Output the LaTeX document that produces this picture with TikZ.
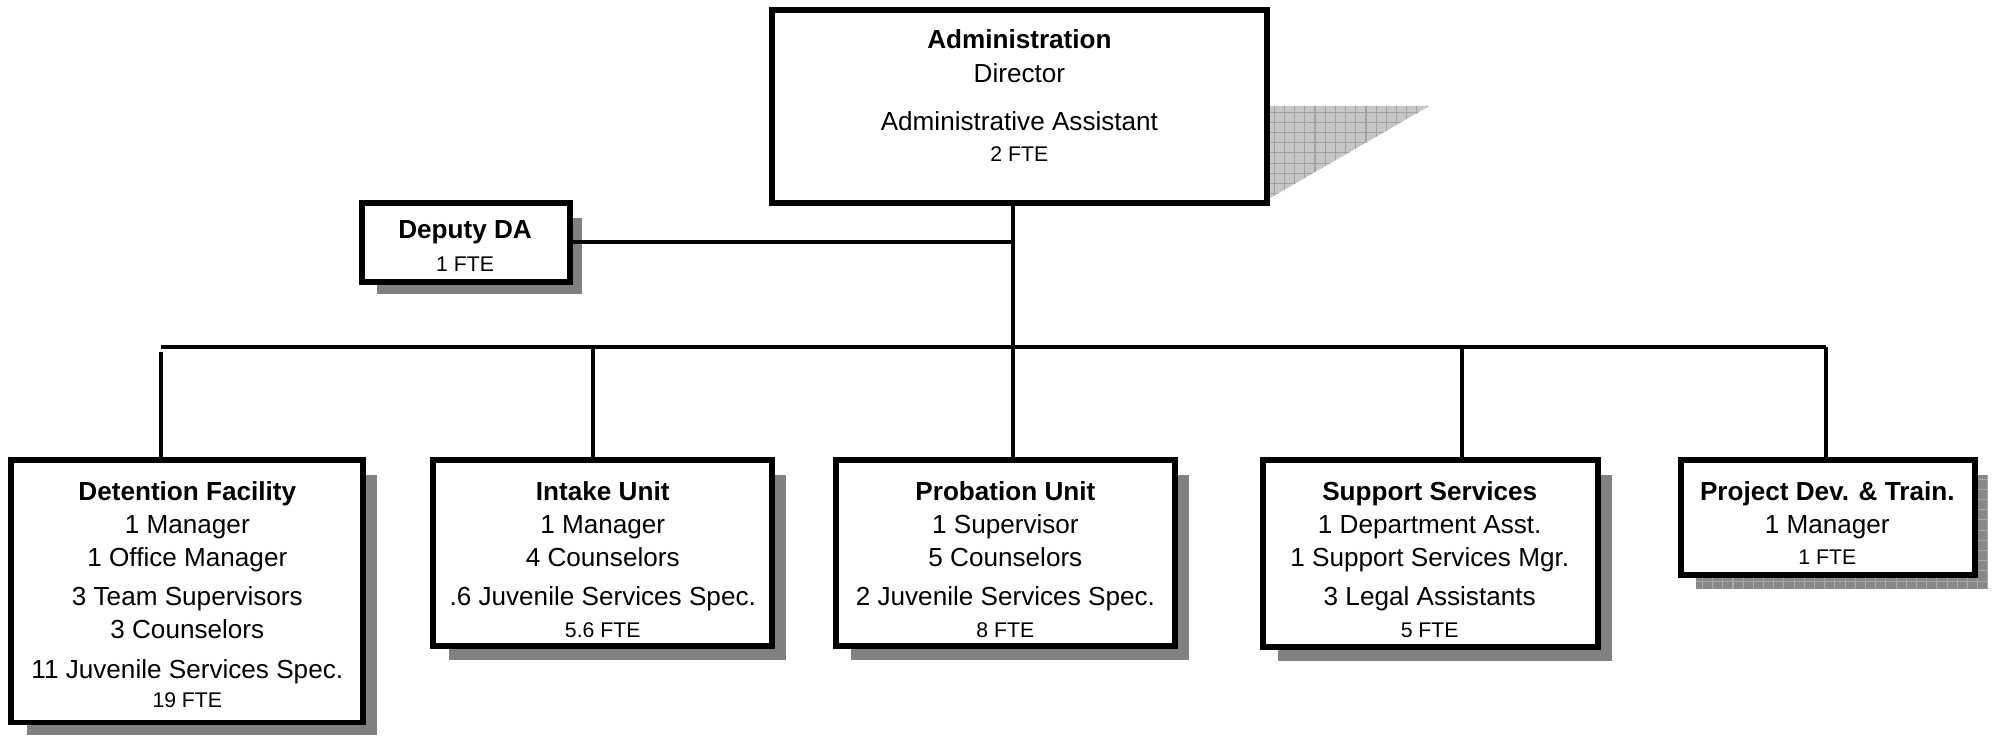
\documentclass[tikz,border=0pt]{standalone}
\usepackage{fontspec}
\setmainfont{Liberation Sans}
\usetikzlibrary{fit}
\definecolor{shadowgray}{HTML}{808080}
\definecolor{gridfillA}{HTML}{C6C6C6}
\definecolor{gridlineA}{HTML}{A2A2A2}
\definecolor{gridfillB}{HTML}{888888}
\definecolor{gridlineB}{HTML}{A8A8A8}
\begin{document}
\begin{tikzpicture}[x=0.6pt,y=-0.6pt,
  box/.style={draw=black,line width=2.8pt,fill=white,inner sep=0pt,outer sep=0pt},
  shad/.style={fill=shadowgray,draw=none},
  conn/.style={line width=1.9pt,draw=black},
  ttl/.style={anchor=base,inner sep=0pt,font=\fontsize{12.3}{14}\selectfont\bfseries},
  ln/.style={anchor=base,inner sep=0pt,font=\fontsize{12.3}{14}\selectfont},
  fte/.style={anchor=base,inner sep=0pt,font=\fontsize{10}{12}\selectfont}]
\useasboundingbox (0,0) rectangle (1568,578);

% ---------- box corner coordinates ----------
\coordinate (adm-nw) at (606,8);    \coordinate (adm-se) at (994,159);
\coordinate (dep-nw) at (284,159);  \coordinate (dep-se) at (447,221);
\coordinate (det-nw) at (9,361);    \coordinate (det-se) at (285,567);
\coordinate (int-nw) at (340,361);  \coordinate (int-se) at (606,507);
\coordinate (pro-nw) at (656,361);  \coordinate (pro-se) at (922,507);
\coordinate (sup-nw) at (991,361);  \coordinate (sup-se) at (1254,508);
\coordinate (prj-nw) at (1319,361); \coordinate (prj-se) at (1550,451);

% ---------- shadows ----------
\begin{scope}
  \clip (994,83) -- (1122,83) -- (994,157) -- cycle;
  \fill[gridfillA] (990,80) rectangle (1125,160);
  \draw[gridlineA,line width=0.5pt,step=4.8pt] (990,80) grid (1125,160);
\end{scope}
\fill[shad] (296,171) rectangle (457,231);
\fill[shad] (21,373) rectangle (296,577);
\fill[shad] (352,373) rectangle (617,518);
\fill[shad] (668,373) rectangle (933,518);
\fill[shad] (1003,373) rectangle (1265,519);
\begin{scope}
  \clip (1331,373) rectangle (1560,462);
  \fill[gridfillB] (1325,370) rectangle (1565,465);
  \draw[gridlineB,line width=0.5pt,step=4.8pt] (1325,370) grid (1565,465);
\end{scope}

% ---------- boxes ----------
\node[box,fit=(adm-nw)(adm-se)] (adm) {};
\node[box,fit=(dep-nw)(dep-se)] (dep) {};
\node[box,fit=(det-nw)(det-se)] (det) {};
\node[box,fit=(int-nw)(int-se)] (int) {};
\node[box,fit=(pro-nw)(pro-se)] (pro) {};
\node[box,fit=(sup-nw)(sup-se)] (sup) {};
\node[box,fit=(prj-nw)(prj-se)] (prj) {};

% ---------- connectors ----------
\coordinate (bL) at (126,272);
\coordinate (bR) at (1433,272);
\coordinate (c1) at (126,276);
\coordinate (c2) at (465,272);
\coordinate (c3) at (795,272);
\coordinate (c4) at (1147,272);
\coordinate (c5) at (1433,272);
\draw[conn] (c3 |- adm.south) -- (c3);
\draw[conn] (dep.east) -- (dep.east -| c3);
\draw[conn] (bL) -- (bR);
\draw[conn] (c1) -- (c1 |- det.north);
\draw[conn] (c2) -- (c2 |- int.north);
\draw[conn] (c3) -- (c3 |- pro.north);
\draw[conn] (c4) -- (c4 |- sup.north);
\draw[conn] (c5) -- (c5 |- prj.north);

% redraw box borders over connector ends
\foreach \b in {adm,dep,det,int,pro,sup,prj}{
  \draw[line width=2.8pt] (\b.north west) rectangle (\b.south east);
}

% ---------- texts ----------
\node[ttl] (adm1) at (800,38.4) {Administration};
\node[ln]  (adm2) at (800,64.4) {Director};
\node[ln]  (adm3) at (800,102.4) {Administrative Assistant};
\node[fte] (adm4) at (800,127) {2 FTE};

\node[ttl] (dep1) at (365,187.4) {Deputy DA};
\node[fte] (dep2) at (365,213) {1 FTE};

\node[ttl] (det1) at (147,392.4) {Detention Facility};
\node[ln]  (det2) at (147,418.4) {1 Manager};
\node[ln]  (det3) at (147,444.4) {1 Office Manager};
\node[ln]  (det4) at (147,475.4) {3 Team Supervisors};
\node[ln]  (det5) at (147,501.4) {3 Counselors};
\node[ln]  (det6) at (147,532.4) {11 Juvenile Services Spec.};
\node[fte] (det7) at (147,555) {19 FTE};

\node[ttl] (int1) at (473,392.4) {Intake Unit};
\node[ln]  (int2) at (473,418.4) {1 Manager};
\node[ln]  (int3) at (473,444.4) {4 Counselors};
\node[ln]  (int4) at (473,475.4) {.6 Juvenile Services Spec.};
\node[fte] (int5) at (473,500) {5.6 FTE};

\node[ttl] (pro1) at (789,392.4) {Probation Unit};
\node[ln]  (pro2) at (789,418.4) {1 Supervisor};
\node[ln]  (pro3) at (789,444.4) {5 Counselors};
\node[ln]  (pro4) at (789,475.4) {2 Juvenile Services Spec.};
\node[fte] (pro5) at (789,500) {8 FTE};

\node[ttl] (sup1) at (1122,392.4) {Support Services};
\node[ln]  (sup2) at (1122,418.4) {1 Department Asst.};
\node[ln]  (sup3) at (1122,444.4) {1 Support Services Mgr.};
\node[ln]  (sup4) at (1122,475.4) {3 Legal Assistants};
\node[fte] (sup5) at (1122,500) {5 FTE};

\node[ttl] (prj1) at (1434,392.4) {Project Dev. \& Train.};
\node[ln]  (prj2) at (1434,418.4) {1 Manager};
\node[fte] (prj3) at (1434,443) {1 FTE};
\end{tikzpicture}
\end{document}
